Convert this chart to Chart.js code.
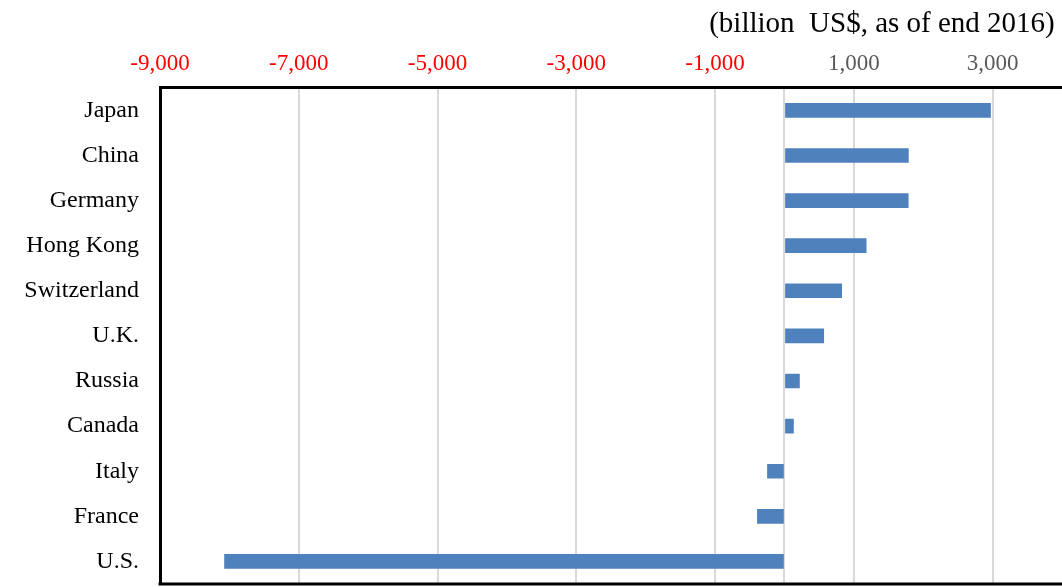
<!DOCTYPE html>
<html>
<head>
<meta charset="utf-8">
<script src="https://cdn.jsdelivr.net/npm/chart.js@4/dist/chart.umd.min.js"></script>
<style>
  body { margin: 0; background: #fff; }
  #wrap { position: relative; width: 1062px; height: 587px; }
</style>
</head>
<body>
<div id="wrap"><canvas id="myChart"></canvas></div>
<script>
// net international investment position, billion US$
const countries = ['Japan', 'China', 'Germany', 'Hong Kong', 'Switzerland', 'U.K.', 'Russia', 'Canada', 'Italy', 'France', 'U.S.'];
const netAssets = [2970, 1786, 1784, 1178, 825, 566, 216, 130, -245, -390, -8070];
const tickValues = [-9000, -7000, -5000, -3000, -1000, 0, 1000, 3000];
const unitLabel = '(billion  US$, as of end 2016) ';

const serif = 'Liberation Serif, Times New Roman, serif';

const frameBottom = {
  id: 'frameBottom',
  afterDraw(chart) {
    const { ctx, chartArea } = chart;
    ctx.save();
    ctx.strokeStyle = '#000';
    ctx.lineWidth = 3;
    ctx.beginPath();
    ctx.moveTo(chartArea.left - 1.5, chartArea.bottom);
    ctx.lineTo(chartArea.right, chartArea.bottom);
    ctx.stroke();
    ctx.restore();
  }
};

const ctx = document.getElementById('myChart').getContext('2d');
const myChart = new Chart(ctx, {
  type: 'bar',
  data: {
    labels: countries,
    datasets: [{
      data: netAssets,
      backgroundColor: '#4f81bd',
      borderWidth: 0,
      barThickness: 14
    }]
  },
  options: {
    indexAxis: 'y',
    responsive: true,
    maintainAspectRatio: false,
    animation: false,
    layout: { padding: { left: 0, right: 0, top: 0, bottom: 3 } },
    plugins: {
      legend: { display: false },
      tooltip: { enabled: false },
      title: {
        display: true,
        text: unitLabel,
        align: 'end',
        color: '#000',
        font: { family: serif, size: 29, weight: 'normal' },
        padding: { top: 7, bottom: 0 }
      }
    },
    scales: {
      x: {
        position: 'top',
        min: -9000,
        max: 4000,
        afterBuildTicks: (scale) => {
          scale.ticks = tickValues.map(v => ({ value: v }));
        },
        afterFit: (scale) => { scale.height = 46; },
        ticks: {
          autoSkip: false,
          maxRotation: 0,
          padding: 10,
          font: { family: serif, size: 23 },
          color: (c) => (c.tick && c.tick.value < 0 ? '#ff0000' : '#595959'),
          callback: (v) => (v === 0 ? '' : v.toLocaleString('en-US'))
        },
        grid: { color: '#d9d9d9', lineWidth: 2, drawTicks: false },
        border: { display: true, color: '#000', width: 3 }
      },
      y: {
        afterFit: (scale) => {
          scale.width = 160;
          scale.paddingTop = 0;
          scale.paddingBottom = 0;
        },
        ticks: {
          autoSkip: false,
          padding: 21,
          color: '#000',
          font: { family: serif, size: 24 }
        },
        grid: { display: false, drawTicks: false },
        border: { display: true, color: '#000', width: 3 }
      }
    }
  },
  plugins: [frameBottom]
});
</script>
</body>
</html>
